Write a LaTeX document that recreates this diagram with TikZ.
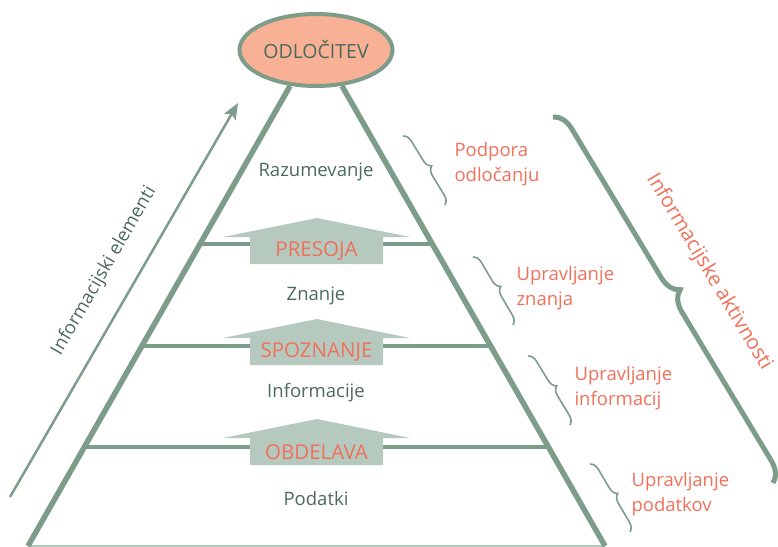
\documentclass[tikz,border=0pt]{standalone}
\usepackage{fontspec}
\setmainfont{Open Sans}
\usetikzlibrary{arrows.meta,decorations.pathreplacing,calc,shapes.geometric}
\definecolor{pgreen}{HTML}{7D9C8A}
\definecolor{afill}{HTML}{B6C9BF}
\definecolor{dtext}{HTML}{4B6A5D}
\definecolor{stext}{HTML}{F0705A}
\definecolor{efill}{HTML}{F8B195}
\begin{document}
\begin{tikzpicture}[x=1pt,y=-1pt,
  side/.style={draw=pgreen,line width=5.5pt},
  level/.style={draw=pgreen,line width=4.5pt},
  layertext/.style={font=\fontsize{18.5}{22}\selectfont,text=dtext},
  acttext/.style={font=\fontsize{18.5}{24.5}\selectfont,text=stext,align=left,anchor=west},
  smallbrace/.style={draw=pgreen,line width=1.6pt,decorate,decoration={brace,amplitude=9pt}},
  bigbrace/.style={draw=pgreen,line width=5pt,decorate,decoration={brace,amplitude=20pt}},
  steptext/.style={font=\fontsize{20.5}{22}\selectfont,text=stext}]
\useasboundingbox (0,0) rectangle (778,546);
% pyramid corners
\coordinate (TL) at (290,86);
\coordinate (BL) at (28,546);
\coordinate (TR) at (342,86);
\coordinate (BR) at (605,546);
% level lines
\foreach \t/\n in {0.6565/a,0.4348/b,0.2152/c}{
  \coordinate (l\n) at ($(BL)!\t!(TL)$);
  \coordinate (r\n) at ($(BR)!\t!(TR)$);
}
\draw[level] (la) -- (ra);
\draw[level] (lb) -- (rb);
\draw[level] (lc) -- (rc);
% base
\draw[afill,line width=1.5pt] (BL) -- (BR);
% sides
\draw[side] (BL) -- (TL);
\draw[side] (BR) -- (TR);
% step arrows
\foreach \dy/\lab/\nm in {0/PRESOJA/presoja,101/SPOZNANJE/spoznanje,201/OBDELAVA/obdelava}{
  \fill[afill] (317,218+\dy) -- (410,237+\dy) -- (383,237+\dy) -- (383,264+\dy)
     -- (250,264+\dy) -- (250,237+\dy) -- (223,237+\dy) -- cycle;
  \node[steptext] (\nm) at (316.5,251+\dy) {\lab};
}
% decision ellipse
\node[ellipse,draw=pgreen,line width=4pt,fill=efill,minimum width=153pt,minimum height=72pt,
  inner sep=0pt,font=\fontsize{19.5}{22}\selectfont,text=dtext] (odl) at (316,50) {ODLOČITEV};
% layer labels
\node[layertext] (raz) at (316,172) {Razumevanje};
\node[layertext] (zna) at (316,296) {Znanje};
\node[layertext] (inf) at (316,393) {Informacije};
\node[layertext] (pod) at (316,499) {Podatki};
% left arrow
\coordinate (ea) at (10,497);
\coordinate (eb) at (238,103);
\draw[pgreen,line width=2.5pt,-{Stealth[length=16pt,width=13pt,inset=3pt]}] (ea) -- (eb);
\node[layertext,rotate=60] (iel) at (104,271) {Informacijski elementi};
% big brace
\coordinate (ba) at (553,117);
\coordinate (bb) at (773,483);
\draw[bigbrace] (ba) -- (bb);
\node[font=\fontsize{20.5}{24}\selectfont,text=stext,rotate=-59] (iak) at (709,272) {Informacijske aktivnosti};
% small braces
\coordinate (s1a) at (403,136); \coordinate (s1b) at (445,205);
\coordinate (s2a) at (473,257); \coordinate (s2b) at (513,325);
\coordinate (s3a) at (528,356); \coordinate (s3b) at (570,425);
\coordinate (s4a) at (590,464); \coordinate (s4b) at (630,532);
\draw[smallbrace] (s1a) -- (s1b);
\draw[smallbrace] (s2a) -- (s2b);
\draw[smallbrace] (s3a) -- (s3b);
\draw[smallbrace] (s4a) -- (s4b);
\node[acttext] (a1) at (451,164) {Podpora\\odločanju};
\node[acttext] (a2) at (513,288) {Upravljanje\\znanja};
\node[acttext] (a3) at (571,388) {Upravljanje\\informacij};
\node[acttext] (a4) at (628,494) {Upravljanje\\podatkov};
\end{tikzpicture}
\end{document}
